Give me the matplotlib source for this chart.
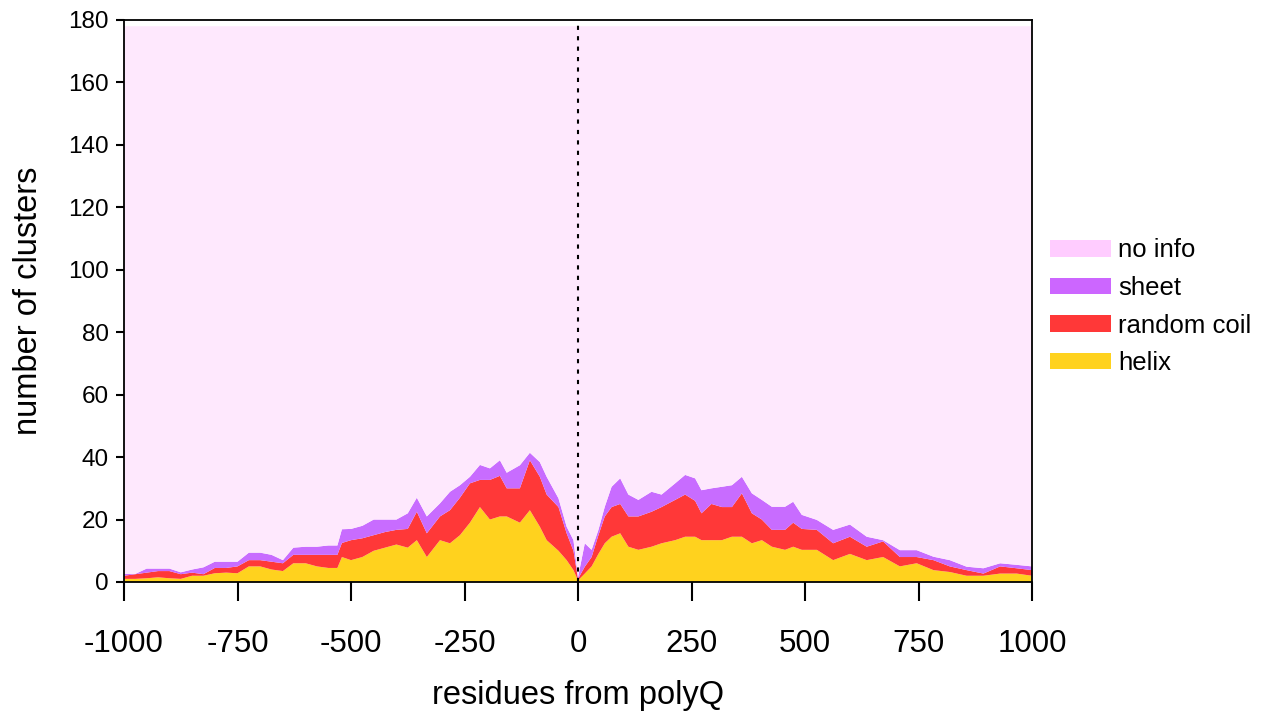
import matplotlib.pyplot as plt
from matplotlib.patches import Patch
import numpy as np

plt.rcParams['font.family'] = ['Liberation Sans', 'DejaVu Sans']
plt.rcParams['axes.unicode_minus'] = False

# residue positions
residues = [-1000, -975, -950, -925, -900, -875, -850, -825, -800, -775,
            -750, -725, -700, -675, -650, -627, -600, -575, -550, -530,
            -520, -500, -475, -450, -425, -400, -375, -355, -333, -304,
            -282, -260, -238, -216, -194, -172, -157, -128, -106, -84,
            -69, -43, -25, -10, 0, 15, 30, 45, 59, 74,
            93, 111, 133, 162, 184, 214, 236, 258, 272, 294,
            317, 339, 361, 383, 405, 427, 456, 474, 493, 526,
            562, 599, 636, 672, 709, 746, 783, 819, 856, 893,
            930, 966, 1000]

# top of each layer (cumulative)
helix_top = [1.0, 1.0, 1.2, 1.5, 1.2, 1.0, 2.0, 2.0, 2.8, 3.0,
             2.8, 5.0, 5.0, 4.0, 3.5, 6.0, 6.0, 5.0, 4.5, 4.5,
             8.0, 7.0, 8.0, 10.0, 11.0, 12.0, 11.0, 13.4, 8.0, 13.4,
             12.4, 15.0, 19.0, 24.0, 20.0, 21.0, 21.0, 19.0, 23.0, 17.7,
             13.4, 10.0, 7.0, 3.8, 0.5, 2.7, 5.0, 9.0, 12.4, 14.5,
             15.6, 11.3, 10.3, 11.3, 12.4, 13.4, 14.5, 14.5, 13.4, 13.4,
             13.4, 14.5, 14.5, 12.4, 13.4, 11.3, 10.3, 11.3, 10.3, 10.3,
             7.0, 9.0, 7.0, 8.0, 5.0, 6.0, 3.8, 3.2, 2.0, 2.0,
             2.7, 2.7, 2.0]
coil_top = [2.0, 2.5, 3.0, 3.5, 3.5, 2.5, 3.0, 2.5, 4.5, 4.5,
            5.0, 7.0, 7.0, 6.5, 6.0, 8.7, 8.7, 8.7, 8.7, 8.7,
            12.5, 13.4, 14.0, 15.0, 16.0, 16.7, 17.0, 22.5, 15.6, 21.0,
            23.0, 27.0, 31.6, 32.7, 32.7, 34.0, 30.0, 30.0, 39.0, 33.7,
            28.0, 24.0, 15.6, 10.0, 1.0, 4.9, 8.0, 15.0, 21.0, 24.0,
            25.0, 21.0, 21.0, 22.5, 24.0, 26.3, 28.0, 26.0, 22.0, 25.0,
            24.0, 24.0, 28.4, 22.0, 20.0, 16.7, 16.7, 19.0, 17.0, 16.7,
            12.4, 14.5, 11.3, 13.0, 8.0, 8.0, 7.0, 5.0, 3.8, 2.7,
            5.0, 4.4, 3.8]
sheet_top = [2.6, 2.6, 4.3, 4.3, 4.3, 3.1, 4.0, 4.7, 6.5, 6.5,
             6.5, 9.4, 9.4, 8.7, 7.0, 11.0, 11.3, 11.3, 11.7, 11.7,
             16.9, 17.0, 18.0, 20.0, 20.0, 20.0, 22.0, 27.0, 21.0, 25.2,
             28.9, 31.0, 33.7, 37.5, 36.4, 39.0, 35.0, 37.4, 41.4, 38.4,
             33.7, 26.8, 17.7, 13.4, 1.5, 12.4, 10.3, 16.7, 24.1, 30.5,
             33.2, 28.0, 26.3, 28.9, 28.0, 31.6, 34.3, 33.2, 29.4, 30.0,
             30.5, 31.0, 33.7, 28.4, 26.3, 24.1, 24.1, 25.7, 21.5, 19.9,
             16.7, 18.4, 14.5, 13.4, 10.2, 10.2, 8.1, 7.0, 4.9, 4.4,
             6.0, 5.5, 5.0]
total_clusters = 178

x = np.array(residues)
helix = np.array(helix_top)
coil = np.array(coil_top) - helix
sheet = np.array(sheet_top) - np.array(coil_top)
no_info = total_clusters - np.array(sheet_top)

labels = ['helix', 'random coil', 'sheet', 'no info']
fill_colors = ['#FFD21E', '#FF3838', '#C86CFF', '#FEE8FD']
legend_colors = ['#FFD21E', '#FF3838', '#CC66FF', '#FFCCFF']

fig = plt.figure(figsize=(12.7, 7.13), dpi=100)
ax = fig.add_axes([124 / 1270, 1 - 582 / 713, 908 / 1270, 562 / 713])

ax.stackplot(x, helix, coil, sheet, no_info, colors=fill_colors, linewidth=0)
ax.axvline(0, color='black', linestyle=(0, (2, 3)), linewidth=1.5)

ax.set_xlim(-1000, 1000)
ax.set_ylim(0, 180)
ax.set_xticks([-1000, -750, -500, -250, 0, 250, 500, 750, 1000])
ax.set_yticks(np.arange(0, 181, 20))
ax.tick_params(axis='x', direction='out', length=14, width=1.5, pad=20, labelsize=22.5)
ax.tick_params(axis='y', direction='out', length=6, width=1.5, pad=5, labelsize=17.5)
for s in ax.spines.values():
    s.set_linewidth(1.3)

ax.set_xlabel('residues from polyQ', fontsize=23.5, labelpad=15)
ax.set_ylabel('number of clusters', fontsize=23.5)
ax.yaxis.set_label_coords(-0.088, 0.5)

handles = [Patch(facecolor=c, edgecolor='none', label=l)
           for c, l in zip(legend_colors, labels)][::-1]
fig.legend(handles=handles, loc='upper left', bbox_to_anchor=(1040 / 1270, 1 - 228 / 713),
           frameon=False, fontsize=18.5, handlelength=2.35, handleheight=0.62,
           handletextpad=0.3, labelspacing=0.53, borderaxespad=0)

fig.savefig('out.png', dpi=100)
